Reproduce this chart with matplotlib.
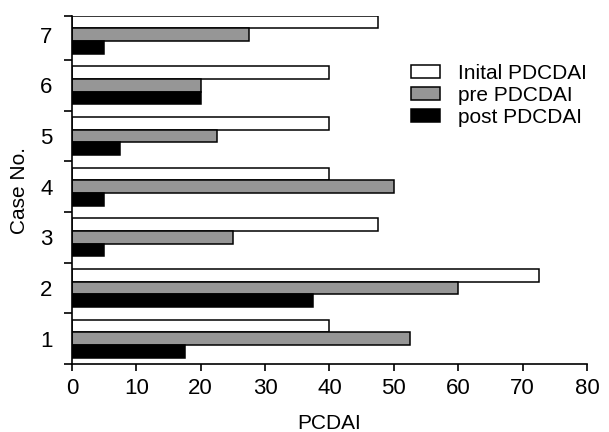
import numpy as np
import matplotlib.pyplot as plt

plt.rcParams['font.family'] = ['Liberation Sans', 'DejaVu Sans']

# values
cases = [1, 2, 3, 4, 5, 6, 7]
initial = [40, 72.5, 47.5, 40, 40, 40, 47.5]
pre = [52.5, 60, 25, 50, 22.5, 20, 27.5]
post = [17.5, 37.5, 5, 5, 7.5, 20, 5]
labels = ['Inital PDCDAI', 'pre PDCDAI', 'post PDCDAI']

fig = plt.figure(figsize=(6.09, 4.32), dpi=100)
ax = fig.add_axes([0.118, 0.157, 0.846, 0.806])

y = np.array(cases)
h = 0.25
ax.barh(y + h, initial, height=h, color='white', edgecolor='black', linewidth=1.1, label=labels[0])
ax.barh(y, pre, height=h, color='#969696', edgecolor='black', linewidth=1.1, label=labels[1])
ax.barh(y - h, post, height=h, color='black', edgecolor='black', linewidth=1.1, label=labels[2])

ax.set_xlim(0, 80)
ax.set_ylim(0.5, 7.37)
ax.set_xticks(range(0, 81, 10))
ax.tick_params(axis='x', labelsize=16, length=5, width=1.2, pad=5)

# ticks between the groups, labels at group centres
ax.set_yticks(list(np.arange(0.5, 7, 1)) + [7.37])
ax.set_yticklabels([])
ax.set_yticks(cases, minor=True)
ax.set_yticklabels([str(c) for c in cases], minor=True, fontsize=16)
ax.tick_params(axis='y', which='major', length=6, width=1.2)
ax.tick_params(axis='y', which='minor', length=0, pad=14)

for s in ['top', 'right']:
    ax.spines[s].set_visible(False)
for s in ['left', 'bottom']:
    ax.spines[s].set_linewidth(1.2)

ax.set_xlabel('PCDAI', fontsize=15, labelpad=11)
ax.set_ylabel('Case No.', fontsize=15, labelpad=8)

ax.legend(loc='upper left', bbox_to_anchor=(411 / 609, 1 - 64 / 432),
          bbox_transform=fig.transFigure, frameon=False, fontsize=15,
          handlelength=1.4, handleheight=0.58, handletextpad=0.85,
          labelspacing=0.15, borderpad=0, borderaxespad=0)

fig.savefig('out.png', dpi=100)
